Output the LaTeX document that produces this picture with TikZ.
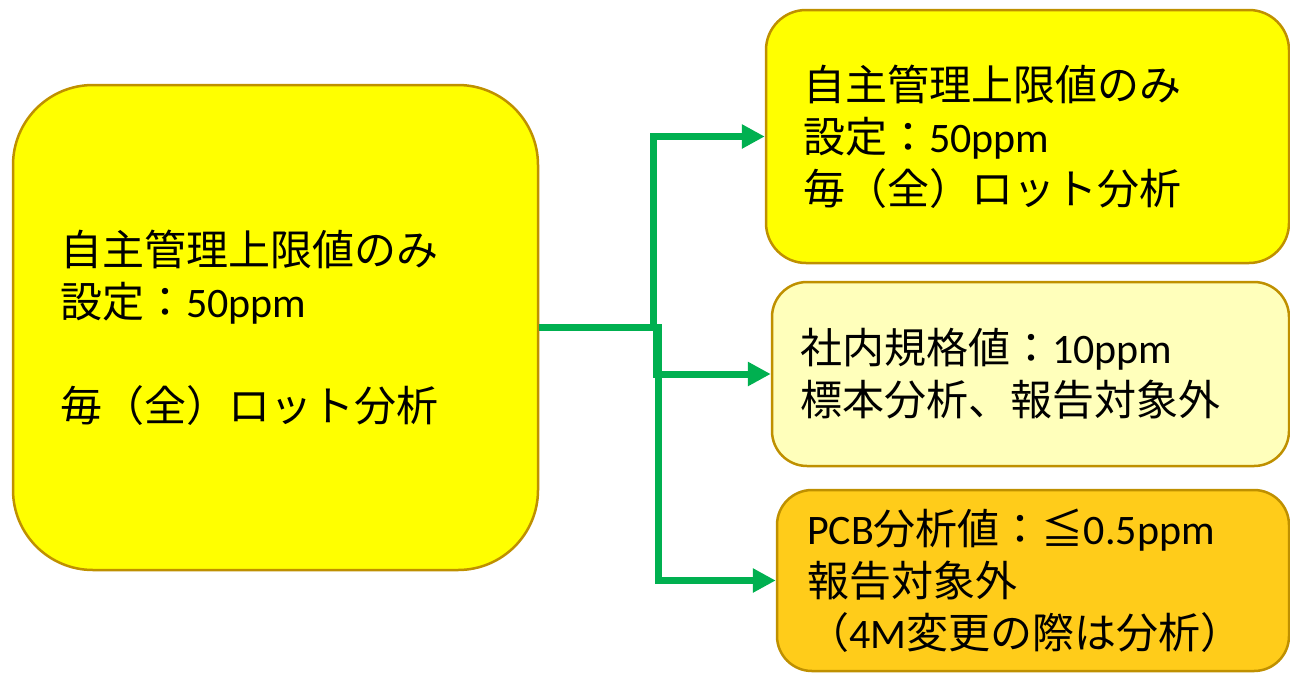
\documentclass[tikz,border=0pt]{standalone}
\usepackage{fontspec}
\setmainfont{Carlito}
\newfontfamily\jp{Noto Sans CJK JP}
\newcommand{\J}[1]{{\jp #1}}
\usetikzlibrary{arrows.meta}
\definecolor{boxline}{HTML}{BF9000}
\definecolor{yel}{HTML}{FFFF00}
\definecolor{paleyel}{HTML}{FFFFBB}
\definecolor{gold}{HTML}{FFCC1A}
\definecolor{grn}{HTML}{00B050}
\tikzset{
  card/.style={draw=boxline, line width=2.5pt, align=left, anchor=center,
    font=\fontsize{42}{52}\selectfont, inner ysep=0pt},
  link/.style={draw=grn, line width=7pt, -{Triangle[length=23pt,width=23pt]}}
}
\begin{document}
\begin{tikzpicture}[x=1pt,y=-1pt]
\useasboundingbox (0,0) rectangle (1290,673);
\node[card, fill=yel, rounded corners=80pt, minimum width=525pt, minimum height=485pt,
  inner xsep=47pt, text width=431pt] (L) at (275.5,327.5)
  {\J{自主管理上限値のみ}\\ \J{設定：}50ppm\\ \mbox{}\\ \J{毎（全）ロット分析}};
\node[card, fill=yel, rounded corners=40pt, minimum width=523pt, minimum height=253pt,
  inner xsep=37pt, text width=449pt] (T) at (1027.5,136.5)
  {\J{自主管理上限値のみ}\\ \J{設定：}50ppm\\ \J{毎（全）ロット分析}};
\node[card, fill=paleyel, rounded corners=35pt, minimum width=517pt, minimum height=184pt,
  inner xsep=28pt, text width=461pt] (M) at (1030.5,374)
  {\J{社内規格値：}10ppm\\ \J{標本分析、報告対象外}};
\node[card, fill=gold, rounded corners=35pt, minimum width=512pt, minimum height=181pt,
  inner xsep=30pt, text width=452pt] (B) at (1033,580.5)
  {PCB\J{分析値：≦}0.5ppm\\ \J{報告対象外}\\ \J{（}4M\J{変更の際は分析）}};
\coordinate (j1) at (653,327.5);
\coordinate (j2) at (656,327.5);
\coordinate (j3) at (658,327.5);
\draw[link] (L.east) -- (j1) |- (T.west);
\draw[link] (L.east) -- (j2) |- (M.west);
\draw[link] (L.east) -- (j3) |- (B.west);
\end{tikzpicture}
\end{document}
